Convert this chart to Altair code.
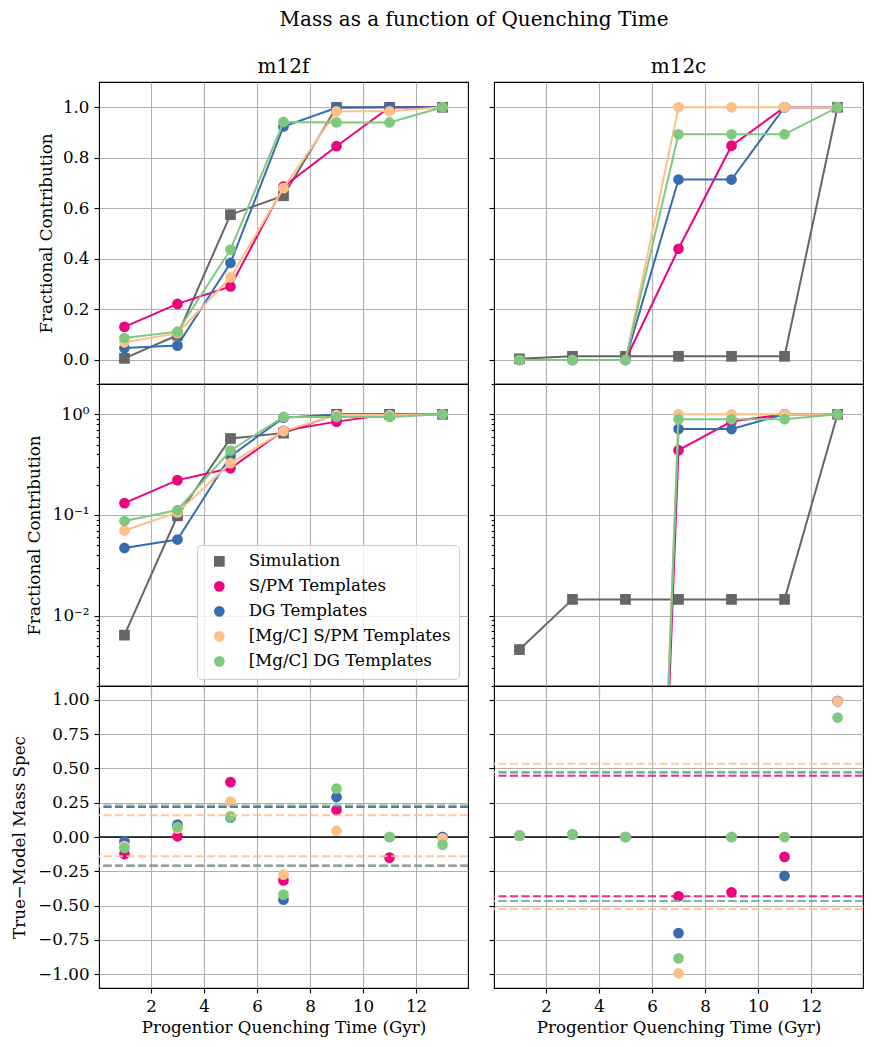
import altair as alt
import pandas as pd

FONT = "DejaVu Serif"
W, H = 369, 302
XDOM = [0.04, 13.96]

times = [1, 3, 5, 7, 9, 11, 13]
series_names = ["Simulation", "S/PM Templates", "DG Templates",
                "[Mg/C] S/PM Templates", "[Mg/C] DG Templates"]
series_colors = ["#666666", "#F0027F", "#386CB0", "#FDC086", "#7FC97F"]
series_shapes = ["square", "circle", "circle", "circle", "circle"]

# fractional contribution, m12f
m12f_sim = [0.0064, 0.098, 0.575, 0.650, 1.0, 1.0, 1.0]
m12f_spm = [0.131, 0.222, 0.291, 0.686, 0.846, 1.0, 1.0]
m12f_dg = [0.047, 0.057, 0.384, 0.924, 0.998, 1.0, 1.0]
m12f_mgc_spm = [0.070, 0.106, 0.327, 0.680, 0.984, 0.984, 1.0]
m12f_mgc_dg = [0.087, 0.112, 0.437, 0.942, 0.940, 0.940, 1.0]

# fractional contribution, m12c
m12c_sim = [0.0046, 0.0145, 0.0145, 0.0145, 0.0145, 0.0145, 1.0]
m12c_spm = [0.0, 0.0, 0.0, 0.440, 0.848, 1.0, 1.0]
m12c_dg = [0.0, 0.0, 0.0, 0.714, 0.714, 1.0, 1.0]
m12c_mgc_spm = [0.0, 0.0, 0.0, 1.0, 1.0, 1.0, 1.0]
m12c_mgc_dg = [0.0, 0.0, 0.0, 0.893, 0.893, 0.893, 1.0]

# True - Model residuals
m12f_res_spm = [-0.124, 0.005, 0.400, -0.316, 0.197, -0.150, 0.0]
m12f_res_dg = [-0.032, 0.090, 0.142, -0.456, 0.291, 0.0, 0.0]
m12f_res_mgc_spm = [-0.066, 0.062, 0.258, -0.274, 0.046, 0.0, -0.010]
m12f_res_mgc_dg = [-0.080, 0.073, 0.150, -0.420, 0.352, 0.0, -0.056]

m12c_res_spm = [0.010, 0.017, 0.0, -0.432, -0.403, -0.145, 0.990]
m12c_res_dg = [0.010, 0.017, 0.0, -0.700, 0.0, -0.283, 0.990]
m12c_res_mgc_spm = [0.010, 0.017, 0.0, -0.993, 0.0, 0.0, 0.988]
m12c_res_mgc_dg = [0.010, 0.017, 0.0, -0.884, 0.0, 0.0, 0.870]

# dashed band limits (S/PM, DG, [Mg/C] S/PM, [Mg/C] DG)
m12f_upper = [0.221, 0.221, 0.158, 0.231]
m12f_lower = [-0.209, -0.209, -0.141, -0.209]
m12c_upper = [0.447, 0.470, 0.533, 0.476]
m12c_lower = [-0.432, -0.466, -0.524, -0.466]
zero_line = [0.0]

# tick values
x_ticks = [2, 4, 6, 8, 10, 12]
lin_ticks = [0.0, 0.2, 0.4, 0.6, 0.8, 1.0]
res_ticks = [-1.0, -0.75, -0.5, -0.25, 0.0, 0.25, 0.5, 0.75, 1.0]
log_ticks = [round(m * d, 6) for d in (0.001, 0.01, 0.1) for m in range(2, 10)] + [0.01, 0.1, 1.0, 2.0]
MAJOR = "datum.value == 1 || datum.value == 0.1 || datum.value == 0.01"


def frac_df(vals):
    rows = []
    for name, arr in zip(series_names, vals):
        for t, v in zip(times, arr):
            rows.append({"series": name, "t": t, "value": v})
    return pd.DataFrame(rows)


def res_df(vals):
    rows = []
    for name, arr in zip(series_names[1:], vals):
        for t, v in zip(times, arr):
            rows.append({"series": name, "t": t, "value": v})
    return pd.DataFrame(rows)


def band_df(upper, lower):
    rows = []
    for name, u, l in zip(series_names[1:], upper, lower):
        rows.append({"series": name, "value": u})
        rows.append({"series": name, "value": l})
    return pd.DataFrame(rows)


def color_enc():
    return alt.Color("series:N", scale=alt.Scale(domain=series_names, range=series_colors),
                     legend=alt.Legend(title=None))


def shape_enc():
    return alt.Shape("series:N", scale=alt.Scale(domain=series_names, range=series_shapes),
                     legend=alt.Legend(title=None))


def x_enc(bottom):
    if bottom:
        ax = alt.Axis(values=x_ticks, format="d", title="Progentior Quenching Time (Gyr)",
                      titlePadding=5)
    else:
        ax = alt.Axis(values=x_ticks, labels=False, title=None)
    return alt.X("t:Q", scale=alt.Scale(domain=XDOM, nice=False, zero=False), axis=ax)


def y_lin(left):
    if left:
        ax = alt.Axis(values=lin_ticks, format=".1f", title="Fractional Contribution",
                      titleX=-48, titleBaseline="alphabetic")
    else:
        ax = alt.Axis(values=lin_ticks, labels=False, title=None)
    return alt.Y("value:Q", scale=alt.Scale(domain=[-0.095, 1.1], nice=False, zero=False), axis=ax)


def y_log(left):
    common = dict(
        values=log_ticks,
        tickSize={"condition": {"test": MAJOR, "value": 5}, "value": 2.8},
        gridOpacity={"condition": {"test": MAJOR, "value": 1}, "value": 0},
    )
    if left:
        ax = alt.Axis(labelExpr="datum.value == 1 ? '10⁰' : datum.value == 0.1 ? '10⁻¹' : datum.value == 0.01 ? '10⁻²' : ''",
                      title="Fractional Contribution", titleX=-60, titleBaseline="alphabetic",
                      **common)
    else:
        ax = alt.Axis(labels=False, title=None, **common)
    return alt.Y("v:Q", scale=alt.Scale(type="log", domain=[0.002, 2.0], nice=False), axis=ax)


def y_res(left):
    if left:
        ax = alt.Axis(values=res_ticks, format=".2f", title="True−Model Mass Spec",
                      titleX=-75, titleBaseline="alphabetic")
    else:
        ax = alt.Axis(values=res_ticks, labels=False, title=None)
    return alt.Y("value:Q", scale=alt.Scale(domain=[-1.1, 1.1], nice=False, zero=False), axis=ax)


def frac_panel(df, y, log=False, title=None):
    layers = []
    for name, col in zip(series_names, series_colors):
        base = alt.Chart(df).transform_filter(alt.datum.series == name)
        if log:
            base = base.transform_calculate(v="max(datum.value, 1e-14)")
        layers.append(base.mark_line(color=col, strokeWidth=2, clip=True).encode(
            x=x_enc(False), y=y))
        layers.append(base.mark_point(filled=True, size=115, opacity=1, clip=True).encode(
            x=x_enc(False), y=y, color=color_enc(), shape=shape_enc()))
    ch = alt.layer(*layers).properties(width=W, height=H)
    if title:
        ch = ch.properties(title=alt.TitleParams(title, font=FONT, fontSize=20, fontWeight="normal",
                                                 color="black", anchor="middle", offset=5))
    return ch


def res_panel(rdf, bdf, left):
    y = y_res(left)
    layers = [alt.Chart(pd.DataFrame({"value": zero_line})).mark_rule(
        color="black", strokeWidth=1.4).encode(y=y)]
    layers.append(alt.Chart(rdf).mark_point(filled=True, size=115, opacity=1, clip=True).encode(
        x=x_enc(True), y=y, color=color_enc(), shape=shape_enc()))
    for name, col in zip(series_names[1:], series_colors[1:]):
        layers.append(alt.Chart(bdf).transform_filter(alt.datum.series == name).mark_rule(
            color=col, strokeDash=[8, 3.5], strokeWidth=2, opacity=0.85).encode(y=y))
    return alt.layer(*layers).properties(width=W, height=H)


f_df = frac_df([m12f_sim, m12f_spm, m12f_dg, m12f_mgc_spm, m12f_mgc_dg])
c_df = frac_df([m12c_sim, m12c_spm, m12c_dg, m12c_mgc_spm, m12c_mgc_dg])

tl = frac_panel(f_df, y_lin(True), title="m12f")
tr = frac_panel(c_df, y_lin(False), title="m12c")
ml = frac_panel(f_df, y_log(True), log=True)
mr = frac_panel(c_df, y_log(False), log=True)
bl = res_panel(res_df([m12f_res_spm, m12f_res_dg, m12f_res_mgc_spm, m12f_res_mgc_dg]),
               band_df(m12f_upper, m12f_lower), True)
br = res_panel(res_df([m12c_res_spm, m12c_res_dg, m12c_res_mgc_spm, m12c_res_mgc_dg]),
               band_df(m12c_upper, m12c_lower), False)

chart = alt.concat(
    tl, tr, ml, mr, bl, br, columns=2,
    spacing={"row": 0, "column": 26}, bounds="flush"
).resolve_scale(
    x="independent", y="independent"
).properties(
    title=alt.TitleParams("Mass as a function of Quenching Time", font=FONT, fontSize=20,
                          fontWeight="normal", color="black", anchor="middle", frame="group",
                          dx=375, offset=26),
    padding={"left": 2, "top": 2, "right": 5, "bottom": 5},
).configure_axis(
    labelFont=FONT, titleFont=FONT, labelFontSize=16.7, titleFontSize=16.7,
    labelColor="black", titleColor="black", titleFontWeight="normal",
    tickColor="black", tickSize=5, tickWidth=1.1, domain=False,
    gridColor="#b0b0b0", gridWidth=1.1, labelPadding=5,
).configure_view(
    stroke="black", strokeWidth=1.1
).configure_legend(
    orient="none", legendX=98, legendY=463,
    fillColor="rgba(255,255,255,0.8)", strokeColor="#cccccc", strokeWidth=1, cornerRadius=4,
    padding=8, labelFont=FONT, labelFontSize=16.7, labelColor="black", labelLimit=400,
    symbolSize=115, rowPadding=7, symbolOffset=6, labelOffset=21,
)

chart.save("out.html", embed_options={"renderer": "svg", "actions": False})
